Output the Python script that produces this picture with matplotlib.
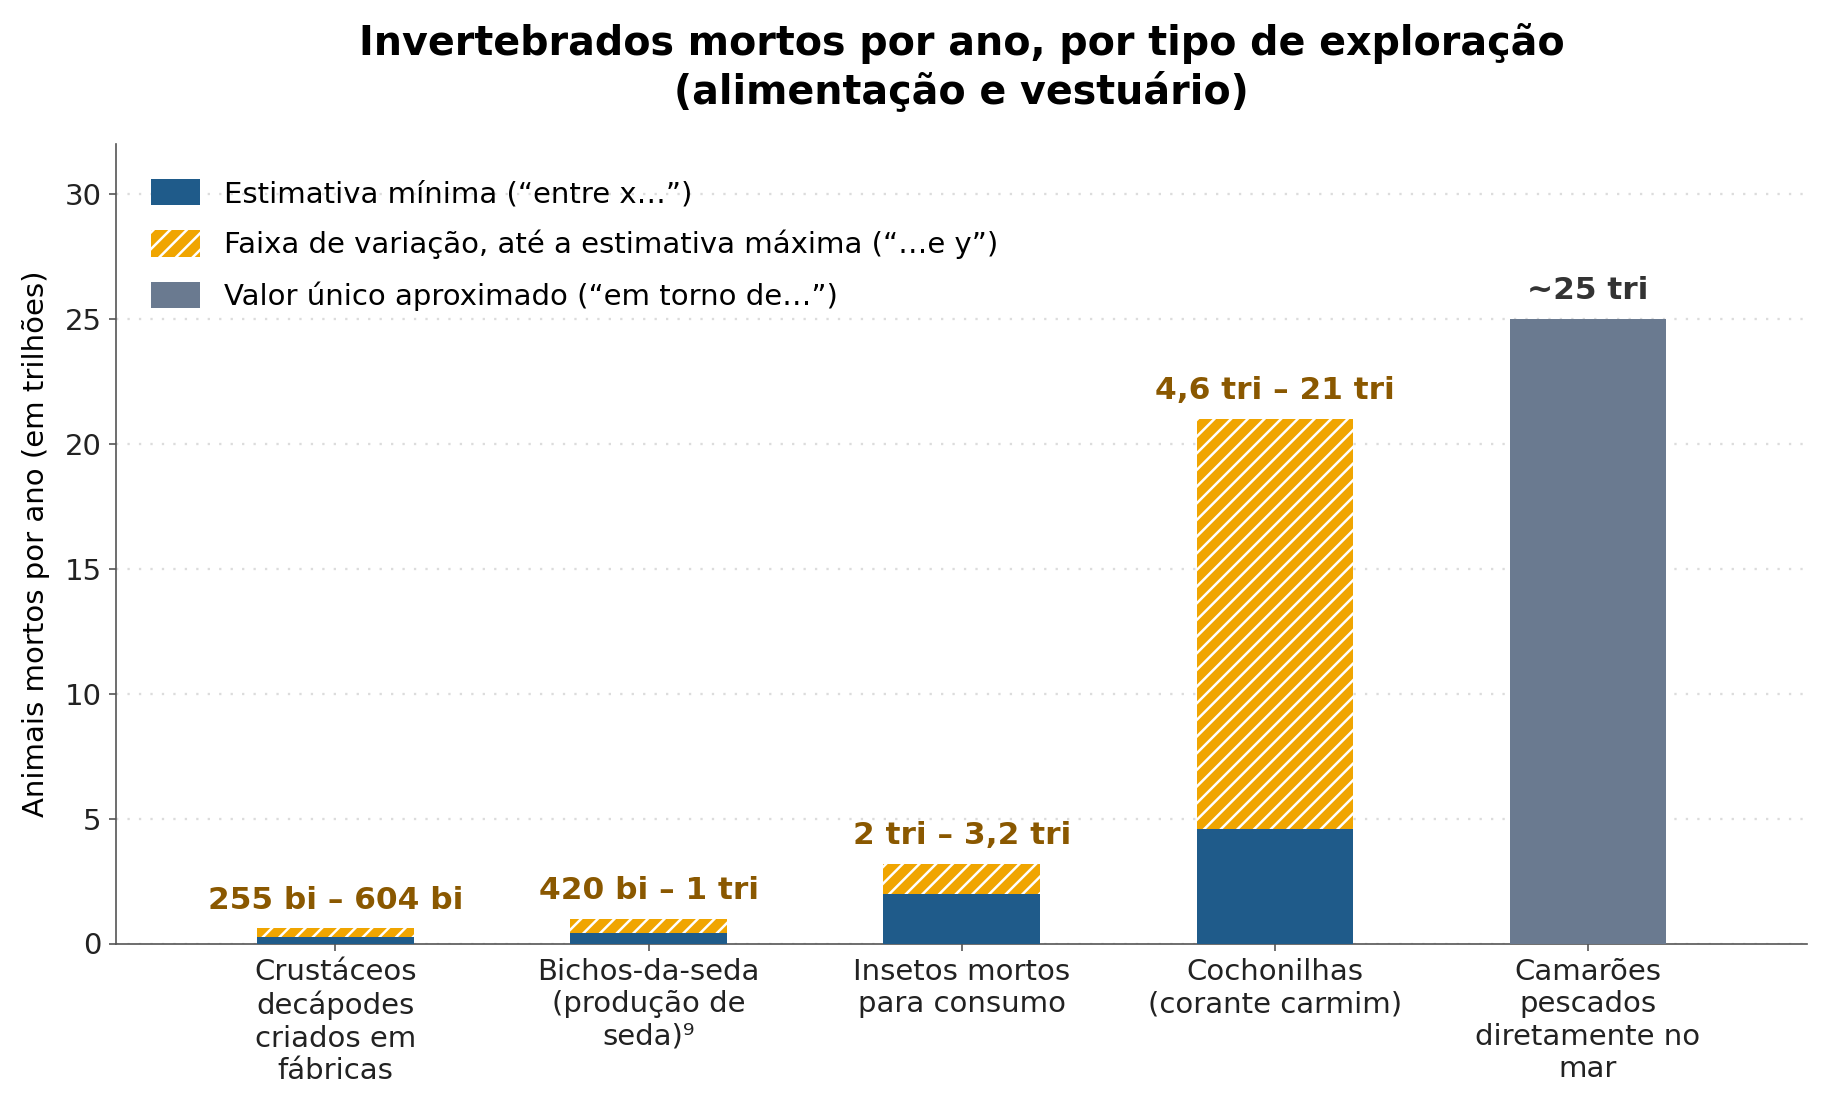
import matplotlib.pyplot as plt
import matplotlib.patches as mpatches
import numpy as np

plt.rcParams['hatch.linewidth'] = 1.2

categories = [
    "Crustáceos\ndecápodes\ncriados em\nfábricas",
    "Bichos-da-seda\n(produção de\nseda)⁹",
    "Insetos mortos\npara consumo",
    "Cochonilhas\n(corante carmim)",
    "Camarões\npescados\ndiretamente no\nmar",
]
min_vals = [0.255, 0.42, 2.0, 4.6]
max_vals = [0.604, 1.0, 3.2, 21.0]
range_labels = ["255 bi – 604 bi", "420 bi – 1 tri", "2 tri – 3,2 tri", "4,6 tri – 21 tri"]
single_vals = [25.0]
single_labels = ["~25 tri"]

BLUE = "#1f5b8a"
ORANGE = "#f0a500"
GRAY = "#6a7a90"
LABEL_BROWN = "#8a5800"

fig, ax = plt.subplots(figsize=(12.2, 7.4), dpi=150)

x = np.arange(len(categories))
xr = x[:len(min_vals)]
xs = x[len(min_vals):]
width = 0.5

ax.bar(xr, min_vals, width, color=BLUE, zorder=3)
ax.bar(xr, np.array(max_vals) - np.array(min_vals), width, bottom=min_vals,
       color=ORANGE, edgecolor="white", linewidth=0, hatch="///", zorder=3)
ax.bar(xs, single_vals, width, color=GRAY, zorder=3)

for xi, top, lab in zip(xr, max_vals, range_labels):
    ax.text(xi, top + 0.55, lab, ha="center", va="bottom", fontsize=15,
            fontweight="bold", color=LABEL_BROWN)
for xi, top, lab in zip(xs, single_vals, single_labels):
    ax.text(xi, top + 0.55, lab, ha="center", va="bottom", fontsize=15,
            fontweight="bold", color="#333333")

ax.set_xticks(x)
ax.set_xticklabels(categories, fontsize=14)
ax.set_xlim(-0.7, len(categories) - 0.3)
ax.set_ylim(0, 32)
ax.set_yticks([0, 5, 10, 15, 20, 25, 30])
ax.tick_params(labelsize=14, colors="#555555", labelcolor="#222222")
ax.set_ylabel("Animais mortos por ano (em trilhões)", fontsize=14, labelpad=7)

ax.yaxis.grid(True, linestyle=(0, (1, 4)), color="#dcdcdc", linewidth=1.1, zorder=0)
ax.set_axisbelow(True)
for s in ["top", "right"]:
    ax.spines[s].set_visible(False)
for s in ["left", "bottom"]:
    ax.spines[s].set_color("#555555")

ax.set_title("Invertebrados mortos por ano, por tipo de exploração\n(alimentação e vestuário)",
             fontsize=19, fontweight="bold", pad=20)

handles = [
    mpatches.Patch(facecolor=BLUE, label="Estimativa mínima (“entre x…”)"),
    mpatches.Patch(facecolor=ORANGE, edgecolor="white", linewidth=0, hatch="///",
                   label="Faixa de variação, até a estimativa máxima (“…e y”)"),
    mpatches.Patch(facecolor=GRAY, label="Valor único aproximado (“em torno de…”)"),
]
ax.legend(handles=handles, loc="upper left", frameon=False, fontsize=14,
          handlelength=1.7, handleheight=1.0, labelspacing=0.74,
          bbox_to_anchor=(0.005, 0.989))

fig.subplots_adjust(left=0.0635, right=0.9875, top=0.87, bottom=0.15)
fig.savefig("out.png", dpi=150)
